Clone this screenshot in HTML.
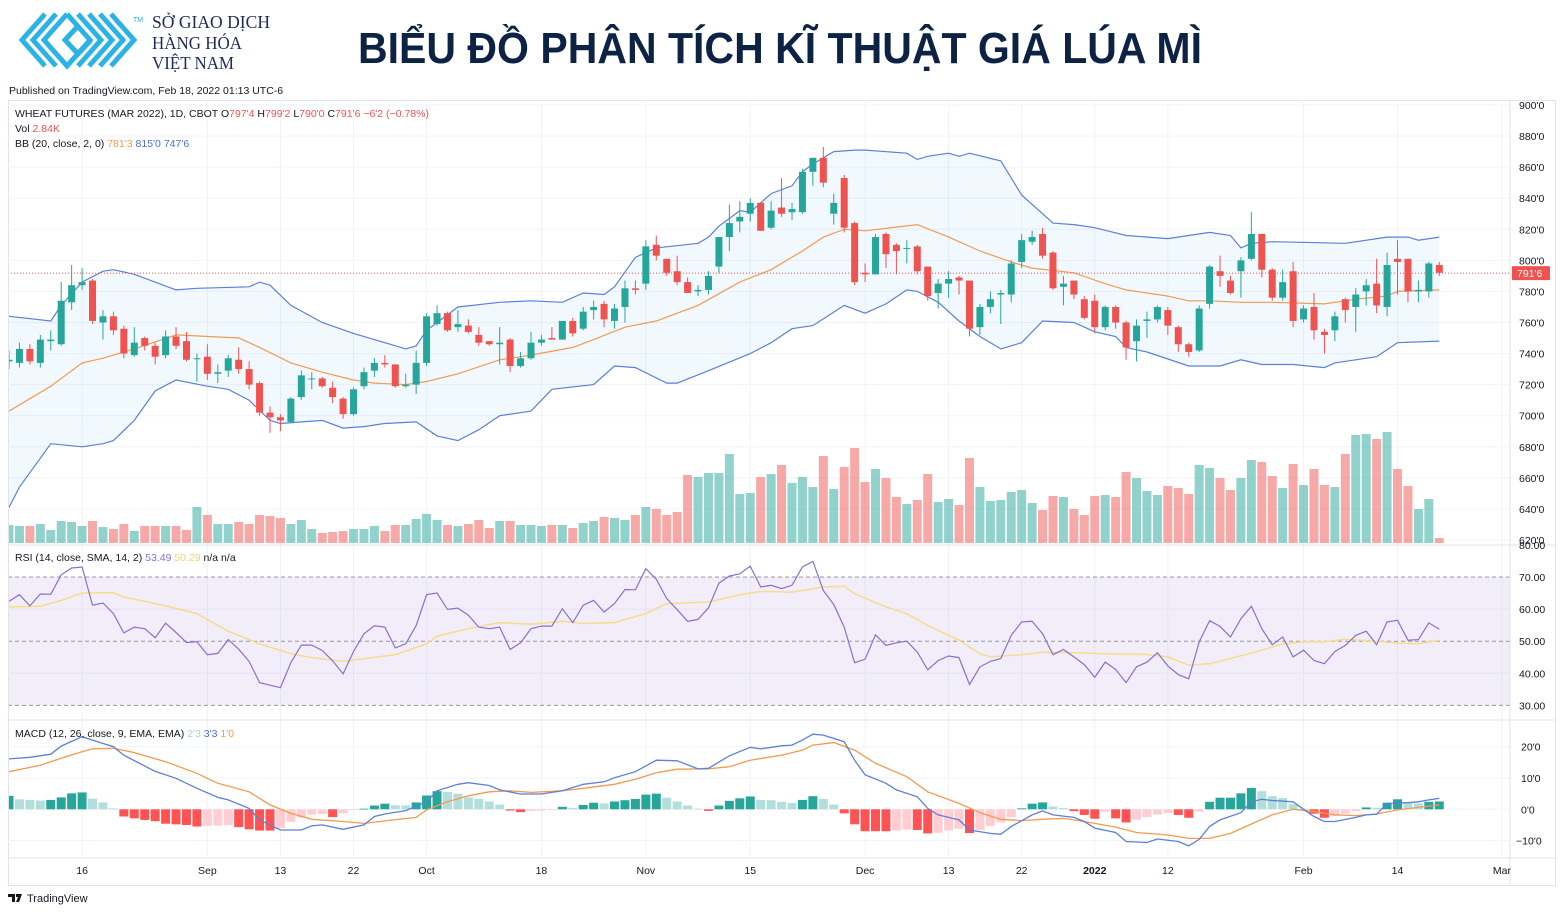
<!DOCTYPE html>
<html><head><meta charset="utf-8">
<style>
html,body{margin:0;padding:0;background:#fff;}
body{width:1564px;height:913px;overflow:hidden;font-family:"Liberation Sans",sans-serif;}
svg text{font-family:"Liberation Sans",sans-serif;}
</style></head>
<body>
<svg id="chart" xmlns="http://www.w3.org/2000/svg" width="1564" height="913" viewBox="0 0 1564 913">
  <defs>
    <clipPath id="plotClip"><rect x="9" y="100" width="1501" height="758"/></clipPath>
  </defs>
  <rect x="0" y="0" width="1564" height="913" fill="#fff"/>
  <g fill="none" stroke="#2bb3e6" stroke-width="5" stroke-linejoin="miter">
    <polyline points="45,14 22,40 45,66"/>
    <polyline points="56,14 33,40 56,66"/>
    <polyline points="67,14 44,40 67,66 90,40 67,14"/>
    <polyline points="78,26 65,40 78,54 91,40"/>
    <polyline points="100,14 123,40 100,66"/>
    <polyline points="111,14 134,40 111,66"/>
    <polyline points="78,14 101,40 78,66"/>
    <polyline points="89,14 112,40 89,66"/>
  </g>
  <text x="133" y="22" font-size="7" fill="#2bb3e6">TM</text>
  <g fill="#1e2a5a" font-size="17.5">
    <text x="152" y="28" textLength="118" lengthAdjust="spacingAndGlyphs" style="font-family:'Liberation Serif',serif">SỞ GIAO DỊCH</text>
    <text x="152" y="49" textLength="90" lengthAdjust="spacingAndGlyphs" style="font-family:'Liberation Serif',serif">HÀNG HÓA</text>
    <text x="152" y="69" textLength="82" lengthAdjust="spacingAndGlyphs" style="font-family:'Liberation Serif',serif">VIỆT NAM</text>
  </g>
  <text x="358" y="63" font-size="44" font-weight="bold" fill="#0d2346" textLength="844" lengthAdjust="spacingAndGlyphs">BIỂU ĐỒ PHÂN TÍCH KĨ THUẬT GIÁ LÚA MÌ</text>
  <text x="9" y="94" font-size="10.5" fill="#131722">Published on TradingView.com, Feb 18, 2022 01:13 UTC-6</text>
  <g id="grid"></g>
  <g id="price" clip-path="url(#plotClip)"></g>
  <g id="rsi" clip-path="url(#plotClip)"></g>
  <g id="macd" clip-path="url(#plotClip)"></g>
  <g id="axes"></g>
  <g id="legend" font-size="10.5">
    <text x="15" y="117" fill="#131722">WHEAT FUTURES (MAR 2022), 1D, CBOT  <tspan fill="#131722">O</tspan><tspan fill="#ef5350">797'4</tspan> <tspan fill="#131722">H</tspan><tspan fill="#ef5350">799'2</tspan> <tspan fill="#131722">L</tspan><tspan fill="#ef5350">790'0</tspan> <tspan fill="#131722">C</tspan><tspan fill="#ef5350">791'6 −6'2 (−0.78%)</tspan></text>
    <text x="15" y="132" fill="#131722">Vol <tspan fill="#ef5350">2.84K</tspan></text>
    <text x="15" y="147" fill="#131722">BB (20, close, 2, 0) <tspan fill="#f39a4f">781'3</tspan> <tspan fill="#4a6fd6">815'0</tspan> <tspan fill="#4a6fd6">747'6</tspan></text>
    <text x="15" y="561" fill="#131722">RSI (14, close, SMA, 14, 2) <tspan fill="#8e6fd0">53.49</tspan> <tspan fill="#f2d36b">50.29</tspan> n/a n/a</text>
    <text x="15" y="737" fill="#131722">MACD (12, 26, close, 9, EMA, EMA) <tspan fill="#9fd8d2">2'3</tspan> <tspan fill="#4a6fd6">3'3</tspan> <tspan fill="#f39a4f">1'0</tspan></text>
  </g>
  <g>
    <path d="M8 894 h7 v8 h-3 v-5 h-4 z M16 894 h2 l4 0 l-3 8 h-3 l2-5 h-2 z" fill="#131722"/>
    <text x="27" y="902" font-size="11" fill="#131722">TradingView</text>
  </g>
</svg>
<script>
const dateLabels = ["16","Sep","13","22","Oct","18","Nov","15","Dec","13","22","2022","12","Feb","14","Mar"];
const dateLabelIdx = [7,19,26,33,40,51,61,71,82,90,97,104,111,124,133,143];
const priceTicks = [620,640,660,680,700,720,740,760,780,800,820,840,860,880,900];
const rsiTicks = [30,40,50,60,70,80];
const macdTicks = [-10,0,10,20];

const openP = [735,734,743,734,748,746,773,784,787,760,764,756,739,750,745,739,751,748,737,738,727,729,736,730,721,702,699,696,712,724,724,718,711,701,719,729,734,733,719,720,734,759,766,757,758,752,748,746,749,732,737,747,750,749,761,756,768,772,761,770,782,785,810,801,793,786,780,781,796,815,825,830,837,821,834,831,831,857,866,830,853,824,792,791,817,810,808,809,796,779,785,789,787,757,770,778,778,799,812,817,805,783,787,775,774,757,770,760,748,761,762,768,757,746,742,772,793,787,793,801,817,794,776,793,762,770,754,755,775,770,780,785,770,801,801,780,780,797];
const highP = [742,747,746,752,755,786,797,795,788,768,767,758,757,751,747,755,757,754,740,746,733,739,744,735,722,706,701,712,729,728,725,722,712,718,731,737,739,733,727,742,766,771,767,768,762,757,748,757,750,741,754,752,757,761,763,770,774,774,772,787,787,813,816,801,803,789,784,793,815,836,838,840,837,838,853,837,859,866,873,843,855,825,798,817,818,811,813,810,796,788,793,790,787,772,780,781,800,817,819,821,806,790,787,777,778,771,771,761,762,767,771,770,758,747,771,797,803,790,802,831,817,795,794,799,771,779,756,767,776,782,788,801,805,813,801,787,799,799];
const lowP = [730,731,733,731,742,745,768,781,759,749,752,737,738,742,733,737,743,735,722,723,721,725,727,717,700,689,690,695,710,717,718,708,698,700,717,725,731,718,718,714,732,758,754,754,753,745,745,733,728,731,736,745,749,749,751,755,762,757,756,760,778,781,800,790,784,779,777,778,792,806,818,825,819,820,828,826,830,848,847,823,818,784,786,791,795,791,798,791,774,769,776,778,751,752,766,759,773,795,810,801,781,771,775,762,753,755,756,736,735,750,760,752,741,738,741,769,783,778,776,800,789,774,774,757,760,749,740,748,760,754,771,766,764,778,773,773,776,790];
const closeP = [736,743,735,749,749,774,784,786,761,764,755,740,747,745,738,751,745,736,737,727,728,737,730,720,702,699,697,711,726,724,719,712,701,717,728,734,733,719,720,734,764,766,755,759,754,747,746,747,732,737,747,749,749,761,753,767,770,762,769,782,781,809,803,792,786,779,781,790,815,824,828,837,819,832,830,833,857,866,850,837,821,786,791,815,804,806,808,793,777,785,788,787,756,770,775,779,798,813,815,803,782,785,778,763,757,770,760,744,758,762,770,758,746,741,769,796,790,779,800,817,794,776,786,761,769,755,752,764,768,778,784,771,797,799,780,781,798,792];
const volume = [18,17,17,19,13,22,21,17,22,16,14,19,12,17,17,17,17,13,36,28,19,19,21,19,28,27,25,19,23,14,10,11,12,14,14,17,12,18,18,24,29,23,18,17,19,23,15,22,22,18,18,17,18,18,15,20,22,26,25,23,28,36,34,28,31,68,66,70,70,89,49,50,66,69,78,60,66,56,87,54,76,95,61,74,65,46,39,43,69,41,44,38,85,56,42,43,51,53,40,33,47,46,34,28,47,48,46,71,65,52,48,57,55,49,78,75,65,53,65,83,81,67,55,79,58,74,58,56,89,108,109,104,111,74,57,34,44,5];

const bbUpperIdx = [0,4,5,7,9,10,12,16,18,23,24,25,27,30,33,35,38,39,40,43,47,50,53,55,57,58,60,62,66,67,68,70,71,73,75,76,77,79,81,82,86,87,88,90,91,92,95,97,100,102,104,107,111,113,115,117,118,119,121,128,132,134,135,137];
const bbUpperVal = [764,761,771,786,793,794,791,781,782,783,786,784,771,760,753,749,743,745,755,770,773,774,773,779,778,783,802,808,811,815,822,832,831,843,848,857,862,870,871,871,869,865,867,869,867,869,864,842,824,823,821,816,814,816,818,816,808,811,812,811,815,815,813,815];
const bbMidIdx = [0,4,7,9,12,16,22,24,27,30,33,35,38,40,43,47,50,54,56,59,62,66,70,73,76,78,80,82,87,90,93,96,98,102,105,107,111,113,115,118,121,126,129,132,133,137];
const bbMidVal = [703,719,734,737,743,752,750,744,734,728,723,721,720,722,727,736,739,744,749,757,761,771,786,794,806,815,820,819,823,815,806,799,795,792,785,781,777,774,774,773,773,772,775,777,780,781];
const bbLowerIdx = [0,1,4,7,9,10,12,14,16,19,21,23,25,26,30,32,34,36,39,41,43,45,47,50,52,56,58,60,63,64,67,71,73,75,77,80,82,84,86,87,89,91,93,95,97,99,102,104,106,107,109,113,116,118,120,123,126,127,131,133,137];
const bbLowerVal = [641,654,682,680,682,684,697,716,723,719,717,710,697,695,697,692,693,695,696,687,684,691,700,703,717,720,732,731,721,721,729,740,747,756,758,771,766,772,781,780,773,761,751,743,747,761,760,754,751,744,741,732,732,736,733,733,731,734,738,747,748];

const rsiVal = [62.4,64.5,61.0,64.7,64.6,70.7,72.8,73.1,61.2,61.9,58.6,52.6,54.4,53.9,51.1,55.6,52.7,49.6,49.8,45.8,46.2,50.5,47.5,43.7,37.1,36.3,35.5,43.3,48.8,48.8,47.1,43.9,39.8,46.8,52.3,54.8,54.4,47.9,49.2,54.9,64.5,65.0,59.9,60.3,58.1,54.4,53.9,54.4,47.4,49.5,53.9,54.7,54.7,60.1,55.8,61.2,62.7,59.1,61.7,66.1,66.0,72.6,69.3,63.3,59.8,56.2,56.8,60.4,68.1,70.3,71.0,73.4,66.9,67.4,66.4,67.4,73.1,74.9,65.8,61.4,54.4,43.3,44.4,52.0,48.7,49.5,50.0,46.6,41.1,44.0,45.4,44.9,36.5,42.0,43.7,44.6,51.8,56.0,56.2,52.3,45.8,47.4,45.1,42.7,38.8,43.5,41.2,37.1,42.0,43.5,46.4,42.3,39.6,38.3,49.8,56.4,54.6,51.3,57.0,60.9,53.9,48.9,51.3,45.1,47.2,44.0,43.0,46.8,48.7,51.8,53.1,48.9,56.0,56.5,50.3,50.5,55.7,53.7];
const rsiSmaIdx = [0,3,5,7,10,11,15,18,21,24,27,29,32,37,40,41,44,47,50,53,55,58,61,63,67,70,72,75,78,80,81,84,86,88,91,93,94,97,99,102,105,109,111,113,115,117,120,122,124,126,128,131,133,135,137];
const rsiSmaVal = [60.7,60.9,62.7,65.0,65.1,63.8,61.0,58.6,53.1,49.2,46.1,44.9,43.7,45.8,49.2,51.6,53.9,55.8,55.3,56.2,55.5,55.8,58.6,61.7,62.2,64.5,65.5,65.3,66.9,67.1,64.8,60.7,58.6,54.9,50.3,46.1,45.1,45.8,46.6,46.4,46.1,45.9,45.1,42.5,43.0,44.6,47.2,49.2,49.8,49.8,50.6,50.0,49.4,49.2,50.3];

const macdIdx = [0,2,4,5,7,8,10,11,14,16,18,20,21,23,24,26,28,29,30,32,34,35,36,38,40,41,43,44,46,47,49,51,53,55,57,58,60,62,64,66,67,69,71,72,74,75,76,77,78,80,81,82,84,85,87,88,89,91,92,94,95,96,98,99,100,102,103,104,106,107,109,110,112,113,114,115,116,118,119,120,121,123,124,125,126,127,129,130,131,132,134,135,136,137];
const macdVal = [16.1,16.6,17.6,20.2,23.2,22.1,20.0,17.3,12.1,9.9,6.7,3.8,3.0,0.3,-3.4,-6.6,-6.6,-5.3,-5.0,-6.4,-5.0,-2.3,-1.5,-0.4,2.4,5.9,8.0,8.5,7.6,6.2,4.9,4.9,5.9,8.0,8.8,10.1,12.0,15.7,15.5,12.9,13.1,17.1,19.8,19.3,20.3,20.5,22.1,24.0,23.7,21.6,15.7,11.0,8.3,6.2,4.0,0.3,-1.8,-3.4,-6.6,-7.7,-8.0,-5.5,-1.8,-0.5,-1.8,-2.6,-3.9,-6.0,-7.4,-10.3,-10.6,-9.5,-10.3,-11.7,-9.6,-5.5,-3.4,-1.1,2.4,3.2,2.8,2.4,0,-2.3,-3.9,-3.9,-2.6,-1.8,-1.6,1.9,2.1,2.4,3.0,3.5];
const signalIdx = [0,3,5,7,8,10,12,15,18,20,23,25,27,29,32,34,36,39,40,42,44,46,48,50,53,55,58,60,62,64,67,69,71,74,76,77,79,81,83,86,88,91,93,95,97,99,101,103,106,108,111,113,115,117,119,121,123,125,127,129,131,133,135,137];
const signalVal = [12.0,14.1,16.3,18.4,19.3,19.5,18.1,15.2,11.5,8.3,5.6,1.4,-1.3,-3.2,-3.9,-4.5,-3.7,-2.6,-0.2,2.4,4.3,5.6,5.9,5.4,5.9,6.7,8.0,9.6,11.7,12.8,12.9,13.6,15.7,17.3,18.9,20.5,21.3,18.9,14.7,10.4,5.6,1.9,-1.1,-3.2,-3.6,-3.2,-2.9,-3.9,-5.7,-7.4,-8.2,-9.3,-9.3,-7.7,-4.7,-1.8,0,-0.7,-1.8,-2.0,-1.5,-0.2,0.6,1.4];
const histVal = [4.3,3.2,3.0,2.8,3.0,3.8,5.1,5.4,3.4,2.2,0.3,-2.3,-2.9,-3.4,-3.8,-4.6,-4.8,-5.0,-5.5,-5.3,-5.2,-5.0,-5.7,-6.4,-6.8,-6.8,-6.0,-4.0,-2.6,-1.7,-1.5,-2.5,-1.3,-0.2,0.2,1.2,1.8,1.3,1.2,2.2,4.4,5.8,5.5,5.0,3.8,3.3,2.5,1.5,-0.4,-0.9,-0.5,-0.4,-0.2,0.8,0.4,1.4,2.1,1.9,2.5,2.9,3.3,4.7,5.0,3.7,2.5,1.2,0.2,-0.5,1.2,2.7,3.5,4.1,3.0,2.9,2.4,2.0,3.0,4.2,3.3,1.5,-1.3,-4.8,-7.0,-7.0,-7.0,-6.8,-6.5,-6.6,-7.7,-7.5,-6.8,-6.2,-7.6,-6.6,-5.3,-4.2,-2.5,0.3,1.8,2.2,0.9,0.4,-0.6,-1.8,-3.0,-0.8,-2.9,-4.2,-3.3,-2.5,-1.7,-1.2,-1.8,-2.7,-0.7,2.4,3.7,3.7,5.1,6.8,5.8,4.2,3.6,1.6,0.2,-1.4,-2.7,-2.1,-1.4,-0.6,0.6,0.5,2.1,3.2,2.3,1.9,2.4,2.5];
const lastPrice = 791.75;

const NS = "http://www.w3.org/2000/svg";
function X(i){ return 9 + i*10.44; }
function PY(p){ return 105 + (900-p)*1.5536; }
function VY(v){ return 543 - v*1.0; }
function RY(r){ return 577 + (70-r)*3.21; }
function MY(m){ return 809.3 - m*3.13; }
function mk(tag, attrs, parent){
  const el = document.createElementNS(NS, tag);
  for (const k in attrs) el.setAttribute(k, attrs[k]);
  parent.appendChild(el);
  return el;
}
function fmtPrice(p){ return p + "'0"; }
const grid = document.getElementById('grid');
const gp = document.getElementById('price');
const gr = document.getElementById('rsi');
const gm = document.getElementById('macd');
const ga = document.getElementById('axes');

let e;
e = mk('rect',{x:8.5,y:100.5,width:1547,height:785,fill:'none',stroke:'#e0e3eb'},grid);


priceTicks.forEach(p=>{
  e = mk('line',{x1:8,x2:1510,y1:PY(p),y2:PY(p),stroke:'#f0f3fa'},grid);
  
  
});
[40,60].forEach(r=>{
  e = mk('line',{x1:8,x2:1510,y1:RY(r),y2:RY(r),stroke:'#f0f3fa'},grid);
  
  
});
macdTicks.forEach(m=>{
  e = mk('line',{x1:8,x2:1510,y1:MY(m),y2:MY(m),stroke:'#f0f3fa'},grid);
  
  
});
dateLabelIdx.forEach(i=>{
  e = mk('line',{x1:X(i),x2:X(i),y1:100,y2:858,stroke:'#f0f3fa'},grid);
  
  
});

function pathFrom(idx, vals, yf){
  return idx.map((i,k)=>(k?'L':'M')+X(i).toFixed(1)+','+yf(vals[k]).toFixed(1)).join(' ');
}
const upPts = bbUpperIdx.map((i,k)=>X(i).toFixed(1)+','+PY(bbUpperVal[k]).toFixed(1));
const loPts = bbLowerIdx.map((i,k)=>X(i).toFixed(1)+','+PY(bbLowerVal[k]).toFixed(1)).reverse();
e = mk('polygon',{points:upPts.concat(loPts).join(' '),fill:'rgba(33,150,243,0.06)'},gp);



volume.forEach((v,i)=>{
  const up = closeP[i] >= openP[i];
  e = mk('rect',{x:X(i)-4.5,y:VY(v),width:9,height:543-VY(v),fill:up?'rgba(38,166,154,0.5)':'rgba(239,83,80,0.5)'},gp);
  
  
});

e = mk('path',{d:pathFrom(bbUpperIdx,bbUpperVal,PY),fill:'none',stroke:'#5c7fd9',"stroke-width":1.2},gp);


e = mk('path',{d:pathFrom(bbLowerIdx,bbLowerVal,PY),fill:'none',stroke:'#5c7fd9',"stroke-width":1.2},gp);


e = mk('path',{d:pathFrom(bbMidIdx,bbMidVal,PY),fill:'none',stroke:'#f39a4f',"stroke-width":1.2},gp);



e = mk('line',{x1:8,x2:1510,y1:PY(lastPrice),y2:PY(lastPrice),stroke:'#ef5350',"stroke-dasharray":'1,2',"stroke-width":1},gp);



closeP.forEach((c,i)=>{
  const o = openP[i], up = c >= o, col = up ? '#26a69a' : '#ef5350';
  const g = mk('g',{},gp);
  
  
  mk('line',{x1:X(i),x2:X(i),y1:PY(highP[i]),y2:PY(lowP[i]),stroke:col,"stroke-width":1},g);
  const top = PY(Math.max(o,c)), bot = PY(Math.min(o,c));
  mk('rect',{x:X(i)-3.5,y:top,width:7,height:Math.max(1,bot-top),fill:col},g);
});

e = mk('rect',{x:8,y:RY(70),width:1502,height:RY(30)-RY(70),fill:'rgba(126,87,194,0.1)'},gr);


[70,50,30].forEach(r=>{
  e = mk('line',{x1:8,x2:1510,y1:RY(r),y2:RY(r),stroke:'#9598a1',"stroke-dasharray":'4,3',"stroke-width":1},gr);
  
  
});
e = mk('path',{d:pathFrom(rsiSmaIdx,rsiSmaVal,RY),fill:'none',stroke:'#f5dc8a',"stroke-width":1.5},gr);


e = mk('path',{d:pathFrom(rsiVal.map((v,i)=>i),rsiVal,RY),fill:'none',stroke:'#8a6fcf',"stroke-width":1.2},gr);



histVal.forEach((h,i)=>{
  const prev = i ? histVal[i-1] : 0;
  let col;
  if (h >= 0) col = h >= prev ? '#26a69a' : '#b2dfdb';
  else col = h <= prev ? '#ff5252' : '#ffcdd2';
  const y0 = MY(0), y1 = MY(h);
  e = mk('rect',{x:X(i)-4.5,y:Math.min(y0,y1),width:9,height:Math.max(0.8,Math.abs(y1-y0)),fill:col},gm);
  
  
});
e = mk('path',{d:pathFrom(signalIdx,signalVal,MY),fill:'none',stroke:'#f39a4f',"stroke-width":1.3},gm);


e = mk('path',{d:pathFrom(macdIdx,macdVal,MY),fill:'none',stroke:'#5c7fd9',"stroke-width":1.3},gm);



[[8,545,1556,545],[8,720,1556,720],[8,858,1556,858],[1510,100,1510,885]].forEach(a=>{
  e = mk('line',{x1:a[0],y1:a[1],x2:a[2],y2:a[3],stroke:'#e0e3eb'},ga);
  
  
});
priceTicks.forEach(p=>{
  e = mk('text',{x:1519,y:PY(p)+4,"font-size":10.5,fill:'#131722'},ga);
  e.textContent = fmtPrice(p);
  
  
});
e = mk('rect',{x:1512,y:PY(lastPrice)-7,width:38,height:14,fill:'#ef5350',rx:1},ga);


e = mk('text',{x:1517,y:PY(lastPrice)+4,"font-size":10.5,fill:'#fff'},ga);
e.textContent = "791'6";


rsiTicks.forEach(r=>{
  e = mk('text',{x:1519,y:RY(r)+4,"font-size":10.5,fill:'#131722'},ga);
  e.textContent = r.toFixed(2);
  
  
});
macdTicks.forEach(m=>{
  e = mk('text',{x:m<0?1516:1521,y:MY(m)+4,"font-size":10.5,fill:'#131722'},ga);
  e.textContent = (m<0?'−':'') + Math.abs(m) + "'0";
  
  
});
dateLabels.forEach((lab,k)=>{
  e = mk('text',{x:X(dateLabelIdx[k]),y:874,"font-size":10.5,fill:'#131722',"text-anchor":'middle',"font-weight":lab==='2022'?'bold':'normal'},ga);
  e.textContent = lab;
  
  
});
</script>
</body></html>
